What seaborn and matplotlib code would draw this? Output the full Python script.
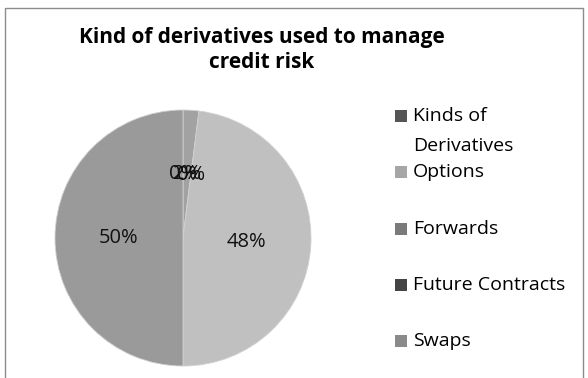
import matplotlib
matplotlib.use("Agg")
import matplotlib.pyplot as plt
from matplotlib.patches import Rectangle
import seaborn as sns

sns.set_theme(style="white")
plt.rcParams['font.family'] = ['Open Sans', 'DejaVu Sans']

# Data (legend order)
categories = ["Kinds of Derivatives", "Options", "Forwards", "Future Contracts", "Swaps"]
legend_labels = ["Kinds of\nDerivatives", "Options", "Forwards", "Future Contracts", "Swaps"]
values = [0, 48, 2, 0, 50]
legend_colors = ["#555555", "#a6a6a6", "#7a7a7a", "#444444", "#8a8a8a"]
slice_colors = ["#6e6e6e", "#c0c0c0", "#a2a2a2", "#5a5a5a", "#9a9a9a"]
# order in which slices appear clockwise from 12 o'clock
draw_order = [0, 2, 3, 1, 4]

W, H = 588, 378
fig = plt.figure(figsize=(W / 100, H / 100), dpi=100)
fig.patch.set_facecolor("white")

# outer chart frame
frame = fig.add_axes([0, 0, 1, 1])
frame.set_xlim(0, W)
frame.set_ylim(H, 0)
frame.axis("off")
frame.add_patch(Rectangle((5, 8), 578, 380, fill=False, edgecolor="#8c8c8c", linewidth=1.0))

# title
frame.text(262, 37, "Kind of derivatives used to manage", ha="center", va="center",
           fontsize=15, fontweight="bold", color="black")
frame.text(262, 63, "credit risk", ha="center", va="center",
           fontsize=15, fontweight="bold", color="black")

# pie
cx, cy, r = 183, 238, 128
ax = fig.add_axes([(cx - r) / W, (H - cy - r) / H, 2 * r / W, 2 * r / H])
vals = [values[i] for i in draw_order]
cols = [slice_colors[i] for i in draw_order]
wedges, texts, autotexts = ax.pie(
    vals, colors=cols, startangle=90, counterclock=False,
    autopct=lambda p: f"{p:.0f}%", pctdistance=0.5,
    wedgeprops=dict(edgecolor="#d0d0d0", linewidth=0.6),
    textprops=dict(fontsize=14.5, color="#111111"))
ax.set_xlim(-1, 1)
ax.set_ylim(-1, 1)
ax.set_aspect("equal")
ax.axis("off")

# legend
y0, step, line_h = 116, 56.25, 30
for i, (lab, col) in enumerate(zip(legend_labels, legend_colors)):
    y = y0 + i * step
    frame.add_patch(Rectangle((395, y - 6), 12, 12, facecolor=col, edgecolor="none"))
    for k, line in enumerate(lab.split("\n")):
        frame.text(413, y + k * line_h, line, ha="left", va="center", fontsize=14,
                   color="black")

fig.savefig("out.png", dpi=100)
